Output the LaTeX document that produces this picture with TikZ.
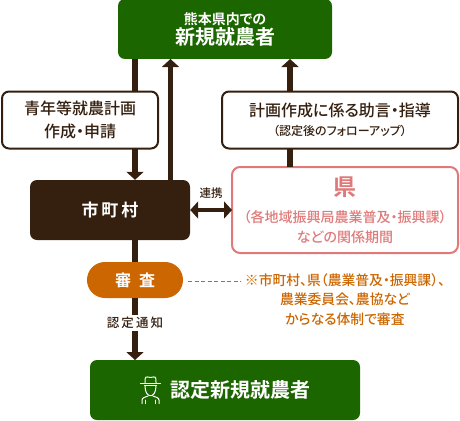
\documentclass[tikz,border=0pt]{standalone}
\usepackage{fontspec}
\setmainfont{Noto Sans CJK JP Medium}[RawFeature=+palt, BoldFont={Noto Sans CJK JP Bold}]
\usepackage{xcolor}
\usetikzlibrary{arrows.meta, positioning}
\definecolor{leaf}{HTML}{1C6600}
\definecolor{bark}{HTML}{35200F}
\definecolor{clay}{HTML}{CC6600}
\definecolor{rose}{HTML}{E07A7A}
\newcommand{\fs}[2]{\fontsize{#1}{#2}\selectfont\bfseries}
\newcommand{\fm}[2]{\fontsize{#1}{#2}\selectfont}
\tikzset{
  greenbox/.style={
    rectangle, rounded corners=7pt,
    fill=leaf, text=white,
    minimum width=214pt, minimum height=60pt,
    align=center, inner sep=0pt, outer sep=0pt
  },
  plainbox/.style={
    rectangle, rounded corners=7pt,
    draw=bark, line width=2pt, fill=white, text=bark,
    minimum height=57pt,
    align=center, inner sep=0pt, outer sep=0pt
  },
  townbox/.style={
    rectangle, rounded corners=7pt,
    fill=bark, text=white,
    minimum width=160pt, minimum height=60pt,
    align=center, font=\fs{17}{20}
  },
  prefbox/.style={
    rectangle, rounded corners=8pt,
    draw=rose, line width=2pt, fill=white, text=rose,
    minimum width=226pt, minimum height=86pt,
    align=center, inner sep=0pt, outer sep=0pt
  },
  pill/.style={
    rectangle, rounded corners=17.9pt,
    fill=clay, text=white,
    minimum width=96pt, minimum height=36pt,
    inner sep=0pt, outer sep=0pt, font=\fs{16}{20}
  },
  arr/.style={-{Triangle[length=8pt, width=17pt]}, bark, line width=5.5pt},
  bar/.style={bark, line width=5.5pt},
  both/.style={{Triangle[length=8pt, width=17pt]}-{Triangle[length=8pt, width=17pt]}, bark, line width=3.5pt},
  lbl/.style={text=bark, inner sep=2pt},
  hatline/.style={white, line width=1pt, line cap=round, line join=round}
}
\begin{document}
\begin{tikzpicture}[x=1pt, y=-1pt]
  \useasboundingbox (0,0) rectangle (460,420);

  % ---- Nodes ----
  \node[greenbox, font=\fs{14}{20}] (newcomer) at (225,29)
    {熊本県内での\\{\fs{20}{20}新規就農者}};

  \node[plainbox, minimum width=156pt, font=\fm{16}{23}] (apply) at (80,120)
    {青年等就農計画\\作成・申請};
  \node[plainbox, minimum width=236pt, font=\fm{16}{19}] (advice) at (340,120)
    {計画作成に係る助言・指導\\{\fm{12}{15}（認定後のフォローアップ）}};

  \node[townbox] (town) at (110,210) {市\,町\,村};
  \node[prefbox, font=\fm{14}{20}] (pref) at (345,210)
    {{\fs{23}{20}県}\\[7pt]（各地域振興局農業普及・振興課）\\などの関係期間};

  \node[pill] (review) at (135,280) {審\hspace{0.5em}査};

  \node[greenbox, minimum width=270pt] (certified) at (225,390) {};
  \node[text=white, inner sep=0pt, font=\fs{20}{24}, xshift=15.5pt] (certtext) at (certified.center) {認定新規就農者};

  % note beside the review pill
  \node[text=clay, align=center, inner sep=0pt, font=\fm{13.8}{19.5}] (note) at (345,299.5)
    {※市町村、県（農業普及・振興課）、\\農業委員会、農協など\\からなる体制で審査};

  % x positions of the vertical lines
  \coordinate (trunk) at (135,0);
  \coordinate (back) at (170.5,0);
  \coordinate (guide) at (290,0);

  % ---- Arrows ----
  \draw[bar] (newcomer.south -| trunk) -- (apply.north -| trunk);
  \draw[arr] (apply.south -| trunk) -- (town.north -| trunk);
  \draw[arr] (town.north -| back) -- (newcomer.south -| back);

  \draw[bar] (pref.north -| guide) -- (advice.south -| guide);
  \draw[arr] (advice.north -| guide) -- (newcomer.south -| guide);

  \draw[both] (town.east) -- node[lbl, above=8pt, font=\fm{11.5}{14}] (link) {連携} (pref.west);

  \draw[bar] (town.south -| trunk) -- (review.north -| trunk);
  \draw[arr] (review.south -| trunk) -- node[lbl, pos=0.4, fill=white, inner xsep=1pt, font=\fm{12.5}{15}] (notice) {認\,定\,通\,知} (certified.north -| trunk);

  \draw[clay, line width=0.7pt, dash pattern=on 4pt off 2.5pt] (review.east) ++(5,1) coordinate (dashstart) -- (241,281) coordinate (dashend);

  % ---- Farmer icon ----
  \begin{scope}[hatline]
    \draw (145,382.5) .. controls (144.5,376) and (146,376.5) .. (150.5,377.5) .. controls (155,376.5) and (156.5,376) .. (156,382.5);
    \draw (140.5,383) -- (160.5,383);
    \draw (144.5,385.5) -- (156.5,385.5);
    \draw (145,386) .. controls (145,399) and (156,399) .. (156,386);
    \draw (142,403.5) -- (142,400) .. controls (142,397.5) and (146,397) .. (148,396);
    \draw (159,403.5) -- (159,400) .. controls (159,397.5) and (155,397) .. (153,396);
    \draw (145.5,400) -- (145.5,403.5);
    \draw (155.5,400) -- (155.5,403.5);
  \end{scope}
\end{tikzpicture}
\end{document}
